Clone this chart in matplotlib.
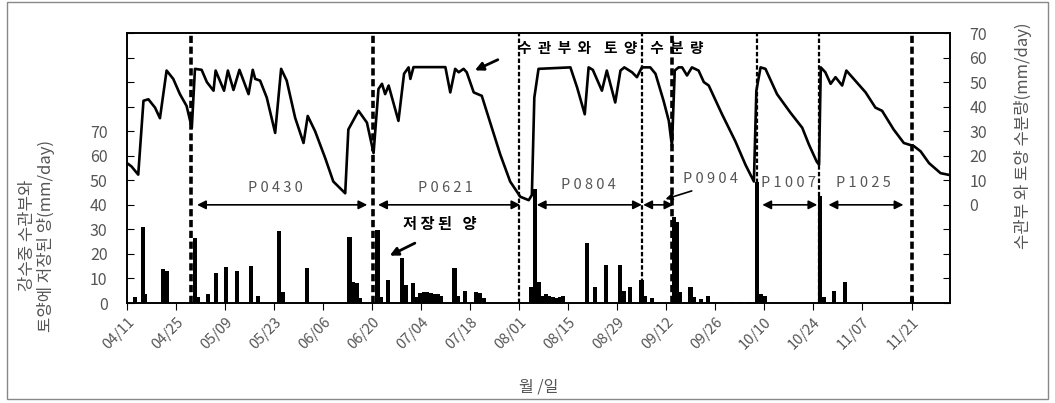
import numpy as np
import matplotlib
matplotlib.use("Agg")
import matplotlib.pyplot as plt
from matplotlib.patches import Rectangle

plt.rcParams['font.family'] = ['Noto Sans CJK KR', 'DejaVu Sans']

# x = days since 04/11
tick_labels = ['04/11', '04/25', '05/09', '05/23', '06/06', '06/20', '07/04', '07/18',
               '08/01', '08/15', '08/29', '09/12', '09/26', '10/10', '10/24', '11/07', '11/21']

# canopy + soil water content (right axis)
line_day = [0, 1.3, 3.2, 4.7, 6.1, 8, 9.4, 11.3, 13.2, 15.1, 17, 18.5, 19.4, 21.3, 22.8,
            24.7, 25.3, 27.7, 28.8, 30.4, 32.1, 34.7, 35.9, 36.6, 38, 39.9, 42.3, 44, 45.6,
            48, 50.4, 51.6, 53.7, 56.6, 58.9, 62.3, 63.2, 66.1, 68.5, 70.4, 71.8, 72.8, 73.7,
            74.7, 77.5, 79.1, 80.4, 80.9, 81.8, 90.9, 92.3, 93.7, 94.7, 96.1, 97, 99, 101.3,
            103.7, 106.6, 109.4, 112.3, 114.7, 115.6, 116.3, 117.5, 126.6, 128.5, 130.7,
            131.8, 133, 135.6, 137, 139.4, 140.9, 142, 144.2, 145.6, 147, 149.4, 150.9,
            153.2, 154.7, 155.6, 156.4, 157.5, 158.5, 159.9, 161.3, 163.2, 164.7, 166.1,
            169.9, 173.7, 176.6, 179, 179.7, 180.9, 182.3, 185.6, 189.4, 192.8, 194.7,
            196.9, 197.6, 198.1, 199.4, 200.9, 202.3, 204.2, 205.4, 207.5, 210.9, 213.7,
            215.6, 218.9, 221.8, 224.7, 226.6, 229, 232.3, 234.7]
line_val = [17, 15.6, 12.3, 42.4, 43, 39.6, 35.3, 54.7, 51.3, 45.1, 40.3, 31.4, 55.4, 55, 50,
            46.5, 54.7, 46.5, 54.7, 46.8, 55, 45.1, 55, 51.3, 50.6, 43.7, 29.3, 55.4, 50.6,
            35.5, 25.2, 36.2, 30, 19, 9.5, 4.7, 30.7, 38.3, 33.5, 21.1, 47.2, 49.3, 45.1,
            48.6, 34.2, 53.4, 56, 51.3, 56.1, 56.1, 45.8, 55.4, 54, 55.4, 54, 45.8, 44.4,
            33.5, 20.4, 9.5, 3.3, 1.9, 4, 43.7, 55.4, 56, 47.9, 36.9,
            56, 55, 46.5, 54.7, 41.7, 54.7, 56, 54, 52, 56, 56, 53.4,
            42.4, 34.2, 23.9, 54.7, 56, 56, 52.7, 56, 54.7, 50, 48.6,
            36.9, 25.9, 16.3, 9.5, 46.5, 56, 55.4, 45.1, 37.6, 31.4, 24.6,
            17.7, 16.3, 56, 54, 49.3, 52, 48.6, 54.7, 51.3, 45.8, 39.6,
            38.3, 30.7, 25.2, 23.9, 21.8, 17, 12.9, 12.2]

# stored amount (left axis)
bar_day = [2.3, 4.5, 5.1, 10.2, 11.3, 19.4, 20.2, 23.2, 25.4, 28.3, 31.3, 35.4, 37.5,
           43.4, 44.5, 51.3, 63.5, 64.5, 65.5, 66.5, 71.5, 72.4, 74.5, 78.5, 79.5, 81.6,
           82.7, 83.7, 84.7, 85.7, 86.7, 87.7, 88.7, 89.7, 93.5, 94.6, 96.6, 99.7, 100.8,
           101.8, 115.3, 116.6, 117.6, 118.6, 119.6, 120.6, 121.6, 122.6, 123.6, 124.6,
           131.3, 133.7, 136.7, 140.7, 141.9, 143.7, 146.9, 148, 150, 156.1, 157, 158,
           160.9, 161.9, 163.8, 165.8, 168, 172.7, 175, 177.7, 179.9, 180.9, 182, 197.8,
           198.9, 201.8, 204.9, 224.2]
bar_val = [2.5, 31, 3.5, 14, 13, 26.4, 2.5, 3.5, 12.4, 14.5, 13, 15.1, 3,
           29.5, 4.5, 14.3, 26.8, 8.7, 8, 2, 29.8, 2.5, 9.4, 18.2, 7.2, 8,
           2.5, 4, 4.5, 4.5, 4, 3.5, 3.5, 3, 14.2, 3, 5, 4.5, 4,
           2, 6.6, 46.6, 8.7, 3, 3.5, 3, 2.5, 2, 2.5, 3,
           24.6, 6.4, 15.5, 15.5, 5, 6.6, 9.4, 3, 2, 35.2, 33, 4.5,
           6.6, 2.5, 1.5, 3, 0.6, 0.5, 0.5, 0.5, 49.5, 3.5, 3, 43.4,
           2.5, 5, 8.7, 2.5]

vline_day = [18.2, 70.2, 112, 147, 155.5, 180, 197.7, 224]
vline_lw = [2.6, 2.6, 1.6, 1.6, 2.6, 1.6, 1.6, 2.6]

period_names = ['P0430', 'P0621', 'P0804', 'P0904', 'P1007', 'P1025']
period_start = [20, 71.7, 117, 147.4, 181.4, 200.3]
period_end = [68.6, 112.3, 147, 156, 197.1, 221.7]
period_text_x = [42.3, 91, 131.7, 166.6, 188.9, 210.3]
period_text_y = [47, 47, 48, 50.5, 49, 49]

gray = '#555555'

fig = plt.figure(figsize=(10.55, 4.03), dpi=100)
ax = fig.add_axes([0.1204, 0.2481, 0.7801, 0.6700])
ax2 = ax.twinx()

ax.bar(bar_day, bar_val, width=1.2, color='black', align='center')
ax2.plot(line_day, line_val, color='black', lw=1.9)

for d, lw in zip(vline_day, vline_lw):
    ax.axvline(d, color='black', lw=lw, linestyle=(0, (2, 1)))

for s, e in zip(period_start, period_end):
    ax.annotate('', xy=(e, 40), xytext=(s, 40),
                arrowprops=dict(arrowstyle='<|-|>', color='black', lw=1.2,
                                mutation_scale=13, shrinkA=0, shrinkB=0))
for name, tx, ty in zip(period_names, period_text_x, period_text_y):
    ax.text(tx, ty, ' '.join(name), ha='center', va='center', fontsize=10.5, color=gray)

ax.annotate('', xy=(153, 42), xytext=(162, 46),
            arrowprops=dict(arrowstyle='-|>', color='black', lw=1.2, mutation_scale=10))
ax.text(89.4, 32, '저 장 된   양', ha='center', va='center', fontsize=11, fontweight='bold')
ax.annotate('', xy=(74.3, 18.8), xytext=(82.9, 24.9),
            arrowprops=dict(arrowstyle='-|>', color='black', lw=2, mutation_scale=12))
ax.text(138, 103.7, '수  관  부  와    토  양    수  분  량', ha='center', va='center',
        fontsize=10.5, fontweight='bold')
ax.annotate('', xy=(98.6, 94.3), xytext=(106.6, 99.6),
            arrowprops=dict(arrowstyle='-|>', color='black', lw=2, mutation_scale=12))

ax.set_xlim(0, 235)
ax.set_xticks(np.arange(len(tick_labels)) * 14)
ax.set_xticklabels(tick_labels, rotation=45, ha='right', rotation_mode='anchor',
                   fontsize=10.5, color=gray)
ax.tick_params(axis='x', direction='out', length=5)

ax.set_ylim(0, 110)
ax.set_yticks(np.arange(0, 111, 10))
ax.set_yticklabels([str(v) if v <= 70 else '' for v in range(0, 111, 10)],
                   fontsize=11.5, color=gray)
ax.tick_params(axis='y', direction='in', length=5, pad=14)

ax2.set_ylim(-40, 70)
ax2.set_yticks(np.arange(-40, 71, 10))
ax2.set_yticklabels([str(v) if v >= 0 else '' for v in range(-40, 71, 10)],
                    fontsize=11.5, color=gray)
ax2.tick_params(axis='y', direction='in', length=5, pad=14)

for a in (ax, ax2):
    for sp in a.spines.values():
        sp.set_linewidth(1.2)

ax.set_ylabel('강수중 수관부와\n토양에 저장된 양(mm/day)', fontsize=12, color=gray,
              linespacing=1.05)
ax.yaxis.set_label_coords(-0.088, 0.25)
ax2.set_ylabel('수관부 와 토양 수분량(mm/day)', fontsize=12, color=gray, rotation=90)
ax2.yaxis.set_label_coords(1.078, 0.62)
ax.set_xlabel('월 /일', fontsize=11.5, color=gray)
ax.xaxis.set_label_coords(0.5, -0.28)

fig.patches.append(Rectangle((0.007, 0.01), 0.986, 0.985, transform=fig.transFigure,
                             fill=False, edgecolor='#888888', lw=1))

fig.savefig('out.png', dpi=100)
